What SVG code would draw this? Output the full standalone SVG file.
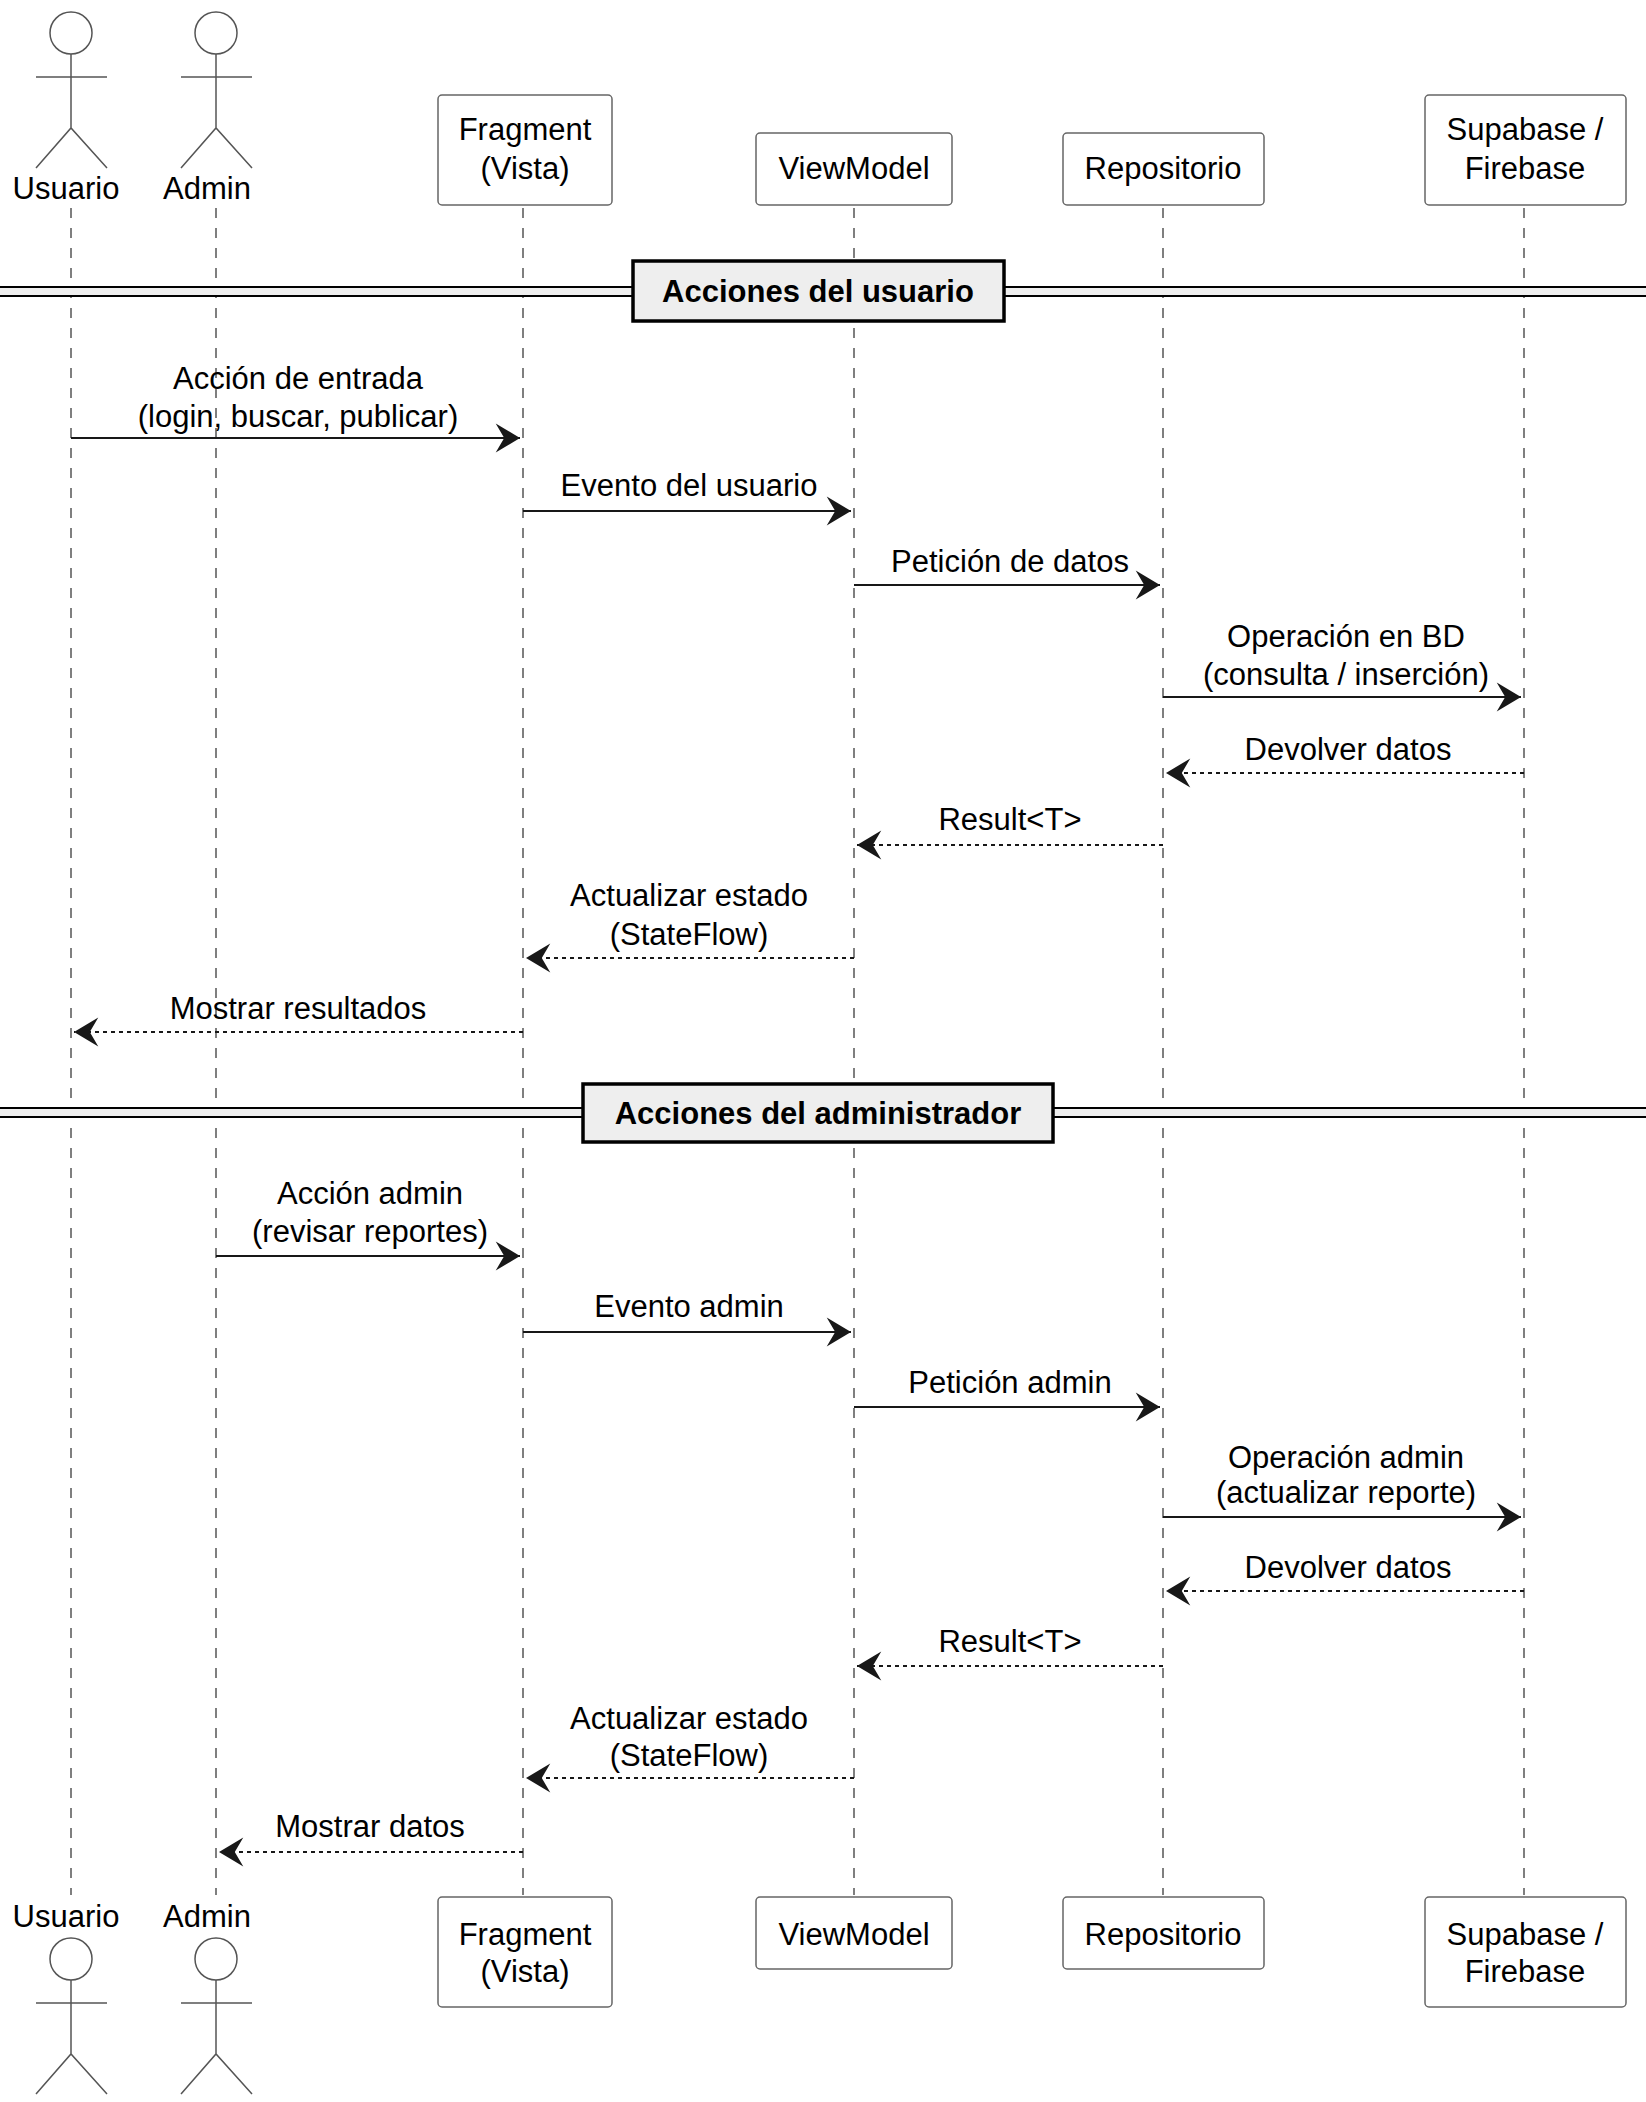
<svg xmlns="http://www.w3.org/2000/svg" width="1646" height="2102" viewBox="0 0 1646 2102">
<style>
text{font-family:"Liberation Sans",Arial,sans-serif;font-size:31px;fill:#000}
.c{text-anchor:middle}
.b{font-weight:bold}
.life{stroke:#555;stroke-width:1.5;stroke-dasharray:10,10;fill:none}
.box{fill:#fff;stroke:#666;stroke-width:1.5}
.act{fill:none;stroke:#555;stroke-width:1.5}
.m{stroke:#181818;stroke-width:2;fill:none}
.d{stroke-dasharray:4,4}
.sep{fill:#eee;stroke:#000;stroke-width:2}
.sb{fill:#eee;stroke:#000;stroke-width:3.5}
</style>
<defs>
<marker id="a" markerUnits="userSpaceOnUse" markerWidth="34" markerHeight="34" viewBox="-22 -14 24 28" refX="0" refY="0" orient="auto"><path d="M0,0 L-20,-12 L-13,0 L-20,12 Z" fill="#181818"/></marker>
</defs>
<g id="lifelines">
<line class="life" x1="71" y1="208" x2="71" y2="1895"/>
<line class="life" x1="216" y1="208" x2="216" y2="1895"/>
<line class="life" x1="523" y1="208" x2="523" y2="1895"/>
<line class="life" x1="854" y1="208" x2="854" y2="1895"/>
<line class="life" x1="1163" y1="208" x2="1163" y2="1895"/>
<line class="life" x1="1524" y1="208" x2="1524" y2="1895"/>
</g>
<g id="usuario">
<circle class="act" cx="71" cy="33" r="21"/><path class="act" d="M71,54V128M36,77H107M36,168L71,128L107,168"/>
<text class="c" x="66" y="199">Usuario</text>
<text class="c" x="66" y="1927">Usuario</text>
<circle class="act" cx="71" cy="1959" r="21"/><path class="act" d="M71,1980V2054M36,2003H107M36,2094L71,2054L107,2094"/>
</g>
<g id="admin">
<circle class="act" cx="216" cy="33" r="21"/><path class="act" d="M216,54V128M181,77H252M181,168L216,128L252,168"/>
<text class="c" x="207" y="199">Admin</text>
<text class="c" x="207" y="1927">Admin</text>
<circle class="act" cx="216" cy="1959" r="21"/><path class="act" d="M216,1980V2054M181,2003H252M181,2094L216,2054L252,2094"/>
</g>
<g id="fragment">
<rect class="box" x="438" y="95" width="174" height="110" rx="4"/>
<text class="c" x="525" y="140">Fragment</text><text class="c" x="525" y="179">(Vista)</text>
<rect class="box" x="438" y="1897" width="174" height="110" rx="4"/>
<text class="c" x="525" y="1945">Fragment</text><text class="c" x="525" y="1982">(Vista)</text>
</g>
<g id="viewmodel">
<rect class="box" x="756" y="133" width="196" height="72" rx="4"/>
<text class="c" x="854" y="179">ViewModel</text>
<rect class="box" x="756" y="1897" width="196" height="72" rx="4"/>
<text class="c" x="854" y="1945">ViewModel</text>
</g>
<g id="repositorio">
<rect class="box" x="1063" y="133" width="201" height="72" rx="4"/>
<text class="c" x="1163" y="179">Repositorio</text>
<rect class="box" x="1063" y="1897" width="201" height="72" rx="4"/>
<text class="c" x="1163" y="1945">Repositorio</text>
</g>
<g id="supabase">
<rect class="box" x="1425" y="95" width="201" height="110" rx="4"/>
<text class="c" x="1525" y="140">Supabase /</text><text class="c" x="1525" y="179">Firebase</text>
<rect class="box" x="1425" y="1897" width="201" height="110" rx="4"/>
<text class="c" x="1525" y="1945">Supabase /</text><text class="c" x="1525" y="1982">Firebase</text>
</g>
<g id="sep1">
<rect class="sep" x="-5" y="287" width="1660" height="9"/>
<rect class="sb" x="633" y="261" width="371" height="60"/>
<text class="c b" x="818" y="302">Acciones del usuario</text>
</g>
<g id="sep2">
<rect class="sep" x="-5" y="1108" width="1660" height="9"/>
<rect class="sb" x="583" y="1084" width="470" height="58"/>
<text class="c b" x="818" y="1124">Acciones del administrador</text>
</g>
<g id="connectors">
<line class="m" x1="71" y1="438" x2="520" y2="438" marker-end="url(#a)"/>
<line class="m" x1="523" y1="511" x2="851" y2="511" marker-end="url(#a)"/>
<line class="m" x1="854" y1="585" x2="1160" y2="585" marker-end="url(#a)"/>
<line class="m" x1="1163" y1="697" x2="1521" y2="697" marker-end="url(#a)"/>
<line class="m d" x1="1524" y1="773" x2="1166" y2="773" marker-end="url(#a)"/>
<line class="m d" x1="1163" y1="845" x2="857" y2="845" marker-end="url(#a)"/>
<line class="m d" x1="854" y1="958" x2="526" y2="958" marker-end="url(#a)"/>
<line class="m d" x1="523" y1="1032" x2="74" y2="1032" marker-end="url(#a)"/>
<line class="m" x1="216" y1="1256" x2="520" y2="1256" marker-end="url(#a)"/>
<line class="m" x1="523" y1="1332" x2="851" y2="1332" marker-end="url(#a)"/>
<line class="m" x1="854" y1="1407" x2="1160" y2="1407" marker-end="url(#a)"/>
<line class="m" x1="1163" y1="1517" x2="1521" y2="1517" marker-end="url(#a)"/>
<line class="m d" x1="1524" y1="1591" x2="1166" y2="1591" marker-end="url(#a)"/>
<line class="m d" x1="1163" y1="1666" x2="857" y2="1666" marker-end="url(#a)"/>
<line class="m d" x1="854" y1="1778" x2="526" y2="1778" marker-end="url(#a)"/>
<line class="m d" x1="523" y1="1852" x2="219" y2="1852" marker-end="url(#a)"/>
<text class="c" x="298" y="389">Acción de entrada</text><text class="c" x="298" y="427">(login, buscar, publicar)</text>
<text class="c" x="689" y="496">Evento del usuario</text>
<text class="c" x="1010" y="572">Petición de datos</text>
<text class="c" x="1346" y="647">Operación en BD</text><text class="c" x="1346" y="685">(consulta / inserción)</text>
<text class="c" x="1348" y="760">Devolver datos</text>
<text class="c" x="1010" y="830">Result&lt;T&gt;</text>
<text class="c" x="689" y="906">Actualizar estado</text><text class="c" x="689" y="945">(StateFlow)</text>
<text class="c" x="298" y="1019">Mostrar resultados</text>
<text class="c" x="370" y="1204">Acción admin</text><text class="c" x="370" y="1242">(revisar reportes)</text>
<text class="c" x="689" y="1317">Evento admin</text>
<text class="c" x="1010" y="1393">Petición admin</text>
<text class="c" x="1346" y="1468">Operación admin</text><text class="c" x="1346" y="1503">(actualizar reporte)</text>
<text class="c" x="1348" y="1578">Devolver datos</text>
<text class="c" x="1010" y="1652">Result&lt;T&gt;</text>
<text class="c" x="689" y="1729">Actualizar estado</text><text class="c" x="689" y="1766">(StateFlow)</text>
<text class="c" x="370" y="1837">Mostrar datos</text>
</g>
</svg>
